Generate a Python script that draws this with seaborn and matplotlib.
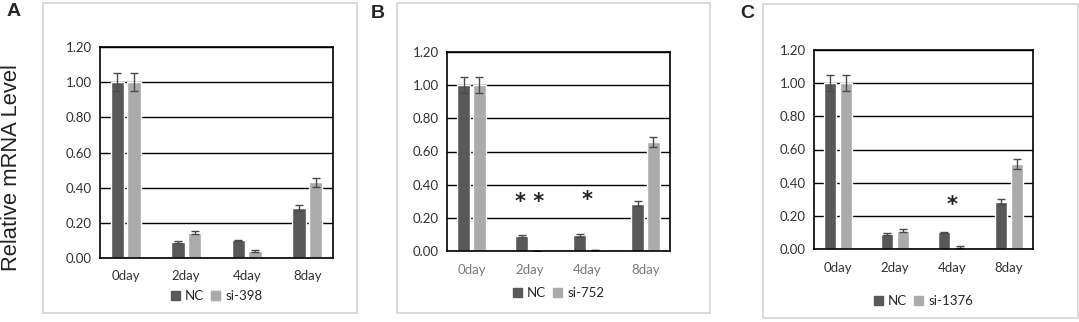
import matplotlib
matplotlib.use("Agg")
import matplotlib.pyplot as plt
import matplotlib.patches as mpatches
import pandas as pd
import seaborn as sns

# hodnoty
days = ["0day", "2day", "4day", "8day"]

nc_a = [1.00, 0.09, 0.10, 0.285]
nc_a_err = [0.05, 0.005, 0.005, 0.015]
si_a = [1.00, 0.145, 0.04, 0.43]
si_a_err = [0.05, 0.01, 0.005, 0.025]

nc_b = [1.00, 0.09, 0.095, 0.285]
nc_b_err = [0.05, 0.005, 0.01, 0.015]
si_b = [1.00, 0.003, 0.005, 0.66]
si_b_err = [0.05, 0.0, 0.0, 0.03]

nc_c = [1.00, 0.09, 0.10, 0.285]
nc_c_err = [0.05, 0.005, 0.005, 0.015]
si_c = [1.00, 0.11, 0.012, 0.515]
si_c_err = [0.05, 0.01, 0.004, 0.03]

si_names = ["si-398", "si-752", "si-1376"]
stars_b = {"2day": ("* *", 0.295), "4day": ("*", 0.31)}
stars_c = {"4day": ("*", 0.265)}

NC_COLOR = "#595959"
SI_COLOR = "#ababab"
TICK_FONT = ["Lato", "DejaVu Sans"]
FS = 9.5

W, H = 1079, 322
fig = plt.figure(figsize=(W / 100, H / 100), dpi=100)


def px_axes(left, top, right, bottom):
    return fig.add_axes([left / W, 1 - bottom / H, (right - left) / W, (bottom - top) / H])


def frame(left, top, right, bottom):
    r = mpatches.Rectangle((left / W, 1 - bottom / H), (right - left) / W, (bottom - top) / H,
                           transform=fig.transFigure, fill=False, edgecolor="#d4d4d4", lw=1.2)
    fig.add_artist(r)


def panel(ax, nc, nc_err, si, si_err, si_name, stars, xcolor, leg_y):
    df = pd.DataFrame({
        "day": days * 2,
        "val": nc + si,
        "grp": ["NC"] * 4 + [si_name] * 4,
    })
    sns.barplot(data=df, x="day", y="val", hue="grp", order=days,
                palette=[NC_COLOR, SI_COLOR], width=0.55, gap=0.2,
                errorbar=None, ax=ax, legend=False, saturation=1)
    for cont, err in zip(ax.containers, [nc_err, si_err]):
        xs = [p.get_x() + p.get_width() / 2 for p in cont]
        ys = [p.get_height() for p in cont]
        ax.errorbar(xs, ys, yerr=err, fmt="none", ecolor="#4a4a4a", elinewidth=1,
                    capsize=3, capthick=1)
    ax.set_ylim(0, 1.2)
    ticks = [0, 0.2, 0.4, 0.6, 0.8, 1.0, 1.2]
    ax.set_yticks(ticks)
    ax.set_yticklabels([f"{v:.2f}" for v in ticks], family=TICK_FONT, fontsize=FS, color="#333333")
    ax.set_xticks(range(4))
    ax.set_xticklabels(days, family=TICK_FONT, fontsize=FS, color=xcolor)
    ax.tick_params(axis="y", length=0, pad=6)
    ax.tick_params(axis="x", length=0, pad=9)
    ax.grid(axis="y", color="black", lw=1)
    ax.set_axisbelow(True)
    for s in ax.spines.values():
        s.set_color("black")
        s.set_linewidth(1.2)
    ax.set_xlabel("")
    ax.set_ylabel("")
    for day, (s, y) in stars.items():
        ax.text(days.index(day), y, s, ha="center", va="center",
                fontsize=15, fontweight="bold", color="#222222")
    handles = [mpatches.Patch(color=NC_COLOR, label="NC"),
               mpatches.Patch(color=SI_COLOR, label=si_name)]
    ax.legend(handles=handles, loc="center", bbox_to_anchor=(0.5, leg_y), ncol=2,
              frameon=False, prop={"family": TICK_FONT, "size": FS},
              handlelength=0.7, handleheight=0.7, columnspacing=0.5, handletextpad=0.4)


sns.set_style("white")

frame(43, 3, 357, 313)
frame(397, 3, 710, 313)
frame(763, 4, 1078, 318)

ax_a = px_axes(100, 47, 333, 258)
ax_b = px_axes(447, 52, 670, 251)
ax_c = px_axes(814, 50, 1033, 249)

panel(ax_a, nc_a, nc_a_err, si_a, si_a_err, si_names[0], {}, "#333333", -0.18)
panel(ax_b, nc_b, nc_b_err, si_b, si_b_err, si_names[1], stars_b, "#7a7a7a", -0.21)
panel(ax_c, nc_c, nc_c_err, si_c, si_c_err, si_names[2], stars_c, "#333333", -0.26)

for lbl, x, y in [("A", 14, 12), ("B", 378, 14), ("C", 747, 14)]:
    fig.text(x / W, 1 - y / H, lbl, ha="center", va="center", fontsize=14,
             fontweight="bold", family=["Liberation Sans", "DejaVu Sans"])

fig.text(12 / W, 1 - 168 / H, "Relative mRNA Level", rotation=90, ha="center", va="center",
         fontsize=15.8, family=["Liberation Sans", "DejaVu Sans"], color="#222222")

fig.savefig("out.png", dpi=100)
